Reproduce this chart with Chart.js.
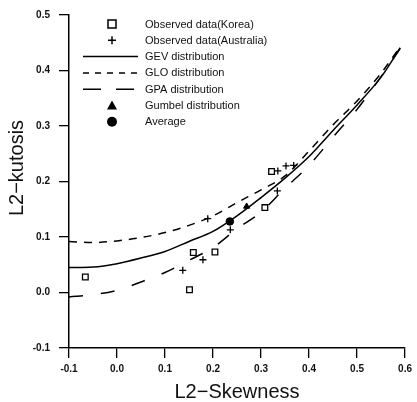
<!DOCTYPE html>
<html>
<head>
<meta charset="UTF-8">
<title>L-moment ratio diagram</title>
<script src="https://cdn.jsdelivr.net/npm/chart.js"></script>
<style>
html,body{margin:0;padding:0;background:#fff}
</style>
</head>
<body>
<canvas id="myChart" width="417" height="402"></canvas>
<script>
// values
const xTicks = [-0.1, 0.0, 0.1, 0.2, 0.3, 0.4, 0.5, 0.6];
const yTicks = [-0.1, 0.0, 0.1, 0.2, 0.3, 0.4, 0.5];

const koreaSkew = [-0.066, 0.151, 0.159, 0.204, 0.308, 0.322];
const koreaKurt = [0.028, 0.005, 0.072, 0.073, 0.153, 0.218];

const ausSkew = [0.137, 0.179, 0.236, 0.189, 0.334, 0.335, 0.352, 0.368];
const ausKurt = [0.040, 0.059, 0.113, 0.133, 0.183, 0.219, 0.228, 0.229];

const curveSkew = [-0.1, -0.05, 0.0, 0.05, 0.1, 0.15, 0.2, 0.25, 0.3, 0.35, 0.4, 0.45, 0.5, 0.55, 0.59];
const gevKurt = [0.045, 0.046, 0.052, 0.062, 0.074, 0.092, 0.110, 0.138, 0.171, 0.206, 0.245, 0.292, 0.338, 0.388, 0.441];
const gloKurt = [0.092, 0.090, 0.093, 0.099, 0.108, 0.121, 0.138, 0.162, 0.185, 0.210, 0.255, 0.302, 0.345, 0.395, 0.443];
const gpaKurt = [-0.008, -0.004, 0.004, 0.019, 0.036, 0.058, 0.081, 0.115, 0.145, 0.188, 0.229, 0.280, 0.330, 0.389, 0.440];

const gumbelSkew = [0.270];
const gumbelKurt = [0.155];
const avgSkew = [0.235];
const avgKurt = [0.128];

const xTitle = 'L2\u2212Skewness';
const yTitle = 'L2\u2212kutosis';

function pts(xs, ys) {
  return xs.map((x, i) => ({x: x, y: ys[i]}));
}

const FONT = '"Liberation Sans", Arial, sans-serif';

// legend drawn inside the plot, top left
const insideLegend = {
  id: 'insideLegend',
  afterDraw(chart) {
    const c = chart.ctx;
    c.save();
    // axis titles
    c.fillStyle = '#111';
    c.font = '20px ' + FONT;
    c.textAlign = 'center';
    c.textBaseline = 'middle';
    const a = chart.chartArea;
    c.fillText(xTitle, (a.left + a.right) / 2, 392);
    c.save();
    c.translate(17, 168);
    c.rotate(-Math.PI / 2);
    c.fillText(yTitle, 0, 0);
    c.restore();

    c.font = '11px ' + FONT;
    c.textAlign = 'left';
    chart.data.datasets.forEach((ds, i) => {
      const y = 24 + i * 16.3;
      const mx = 112;
      c.strokeStyle = '#000';
      c.fillStyle = '#000';
      c.lineWidth = 1.5;
      c.setLineDash([]);
      if (ds.showLine) {
        c.setLineDash(ds.legendDash || []);
        c.beginPath();
        c.moveTo(83, y);
        c.lineTo(138, y);
        c.stroke();
        c.setLineDash([]);
      } else if (ds.pointStyle === 'rect') {
        c.strokeRect(mx - 4, y - 4, 8, 8);
      } else if (ds.pointStyle === 'cross') {
        c.beginPath();
        c.moveTo(mx - 4, y); c.lineTo(mx + 4, y);
        c.moveTo(mx, y - 4); c.lineTo(mx, y + 4);
        c.stroke();
      } else if (ds.pointStyle === 'triangle') {
        c.beginPath();
        c.moveTo(mx, y - 5); c.lineTo(mx + 5, y + 4); c.lineTo(mx - 5, y + 4);
        c.closePath();
        c.fill();
      } else {
        c.beginPath();
        c.arc(mx, y, 5, 0, Math.PI * 2);
        c.fill();
      }
      c.fillStyle = '#111';
      c.fillText(ds.label, 145, y + 0.5);
    });
    c.restore();
  }
};

new Chart(document.getElementById('myChart'), {
  type: 'scatter',
  data: {
    datasets: [
      {label: 'Observed data(Korea)', data: pts(koreaSkew, koreaKurt), pointStyle: 'rect',
       pointRadius: 4, borderColor: '#000', backgroundColor: '#fff', pointBorderWidth: 1.3, order: 0},
      {label: 'Observed data(Australia)', data: pts(ausSkew, ausKurt), pointStyle: 'cross',
       pointRadius: 3.5, borderColor: '#000', pointBorderWidth: 1.3, order: 0},
      {label: 'GEV distribution', data: pts(curveSkew, gevKurt), showLine: true, pointRadius: 0,
       borderColor: '#000', borderWidth: 1.5, cubicInterpolationMode: 'monotone', order: 1},
      {label: 'GLO distribution', data: pts(curveSkew, gloKurt), showLine: true, pointRadius: 0,
       borderColor: '#000', borderWidth: 1.5, borderDash: [8, 7], legendDash: [6, 6],
       cubicInterpolationMode: 'monotone', order: 1},
      {label: 'GPA distribution', data: pts(curveSkew, gpaKurt), showLine: true, pointRadius: 0,
       borderColor: '#000', borderWidth: 1.5, borderDash: [14, 18], legendDash: [18, 15],
       cubicInterpolationMode: 'monotone', order: 1},
      {label: 'Gumbel distribution', data: pts(gumbelSkew, gumbelKurt), pointStyle: 'triangle',
       pointRadius: 3.5, borderColor: '#000', backgroundColor: '#000', order: 0},
      {label: 'Average', data: pts(avgSkew, avgKurt), pointStyle: 'circle',
       pointRadius: 3.8, borderColor: '#000', backgroundColor: '#000', order: 0}
    ]
  },
  options: {
    responsive: false,
    animation: false,
    layout: {padding: {top: 15, right: 8, left: 0, bottom: 0}},
    plugins: {legend: {display: false}, tooltip: {enabled: false}},
    scales: {
      x: {
        type: 'linear', min: -0.1, max: 0.6,
        afterBuildTicks: s => { s.ticks = xTicks.map(v => ({value: v})); },
        afterFit: s => { s.height = 54; },
        grid: {display: true, drawOnChartArea: false, drawTicks: true, tickLength: 10, color: '#000', lineWidth: 1.3},
        border: {display: true, color: '#000', width: 1.5},
        ticks: {color: '#111', padding: 5, maxRotation: 0, font: {family: FONT, size: 10, weight: 'bold'},
                callback: v => v.toFixed(1)}
      },
      y: {
        type: 'linear', min: -0.1, max: 0.5,
        afterBuildTicks: s => { s.ticks = yTicks.map(v => ({value: v})); },
        afterFit: s => { s.width = 69; },
        grid: {display: true, drawOnChartArea: false, drawTicks: true, tickLength: 10, color: '#000', lineWidth: 1.3},
        border: {display: true, color: '#000', width: 1.5},
        ticks: {color: '#111', padding: 9, font: {family: FONT, size: 10, weight: 'bold'},
                callback: v => v.toFixed(1)}
      }
    }
  },
  plugins: [insideLegend]
});
</script>
</body>
</html>
